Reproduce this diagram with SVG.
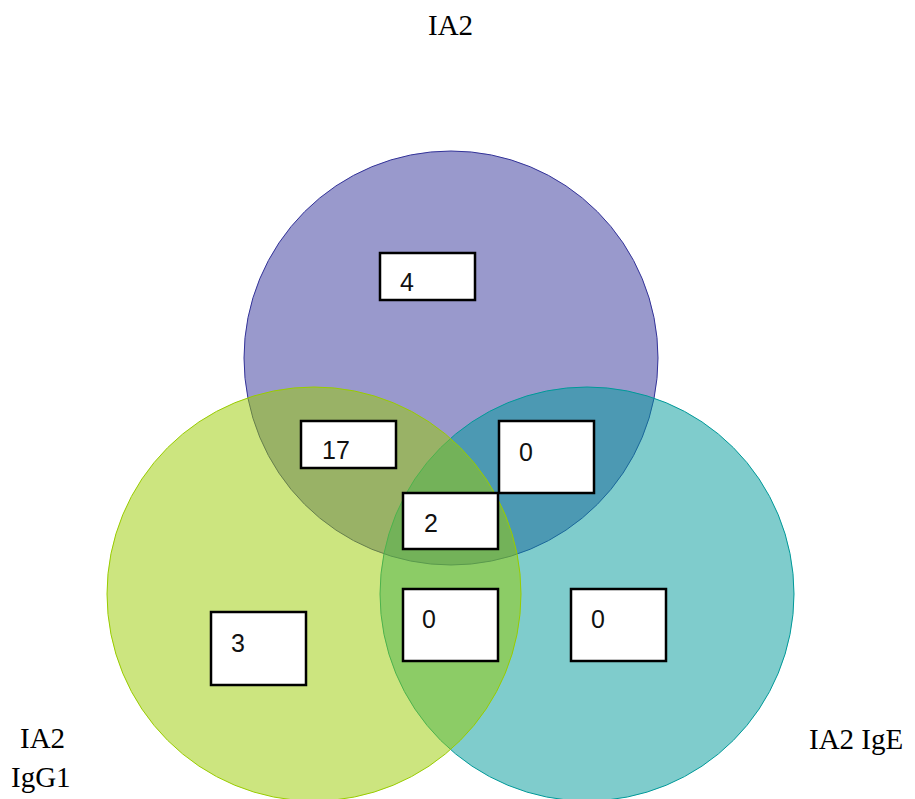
<svg xmlns="http://www.w3.org/2000/svg" width="915" height="799" viewBox="0 0 915 799">
<style>
.lbl{font-family:"Liberation Serif","Times New Roman",serif;font-size:29px;fill:#000}
.box{fill:#fff;stroke:#000;stroke-width:2.5}
.num{font-family:"Liberation Sans",Arial,sans-serif;font-size:25px;fill:#111}
</style>
<rect width="915" height="799" fill="#fff"/>
<g id="set-ia2"><circle cx="451" cy="358" r="207" fill="#333399" fill-opacity="0.5" stroke="#333399" stroke-width="1"/></g>
<g id="set-ia2-ige"><circle cx="587" cy="594" r="207" fill="#009999" fill-opacity="0.5" stroke="#009999" stroke-width="1"/></g>
<g id="set-ia2-igg1"><circle cx="314" cy="594" r="207" fill="#99CC00" fill-opacity="0.5" stroke="#99CC00" stroke-width="1"/></g>
<g id="connectors"></g>
<g id="label-ia2"><text class="lbl" x="428" y="35">IA2</text></g>
<g id="label-igg1"><text class="lbl" x="20" y="748">IA2</text><text class="lbl" x="11" y="787">IgG1</text></g>
<g id="label-ige"><text class="lbl" x="809" y="749">IA2 IgE</text></g>
<g id="n-4"><rect class="box" x="380" y="253" width="95" height="47"/><text class="num" x="400" y="291">4</text></g>
<g id="n-17"><rect class="box" x="301" y="421" width="95" height="47"/><text class="num" x="322" y="459">17</text></g>
<g id="n-0a"><rect class="box" x="499" y="421" width="95" height="72"/><text class="num" x="519" y="461">0</text></g>
<g id="n-2"><rect class="box" x="403" y="493" width="95" height="56"/><text class="num" x="424" y="532">2</text></g>
<g id="n-3"><rect class="box" x="211" y="612" width="95" height="73"/><text class="num" x="231" y="652">3</text></g>
<g id="n-0b"><rect class="box" x="403" y="589" width="95" height="72"/><text class="num" x="422" y="628">0</text></g>
<g id="n-0c"><rect class="box" x="571" y="589" width="95" height="72"/><text class="num" x="591" y="628">0</text></g>
</svg>
